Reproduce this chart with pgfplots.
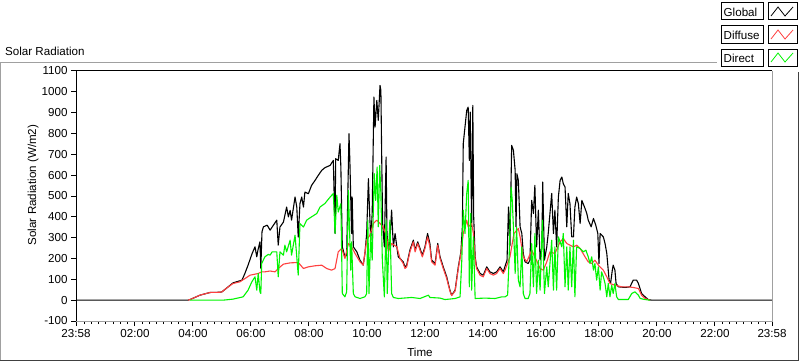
\documentclass[border=0pt]{standalone}
\usepackage{fontspec}
\setmainfont{Liberation Sans}
\usepackage{pgfplots}
\pgfplotsset{compat=1.18}
\definecolor{dred}{RGB}{255,64,64}
\definecolor{dgreen}{RGB}{0,245,0}
\definecolor{fgray}{RGB}{160,160,160}
\newcommand{\lvfont}{\fontsize{11.6bp}{13bp}\selectfont}
\begin{document}
\begin{tikzpicture}[x=1bp,y=1bp]
\useasboundingbox (0,0) rectangle (800,361);
\fill[white] (0,0) rectangle (800,361);
% panel border
\draw[fgray, line width=1bp] (0.5,0.5) -- (0.5,299) -- (717,299);
\draw[black!75, line width=1bp] (0.5,0.5) -- (798.5,0.5) -- (798.5,289);
\node[anchor=base west, inner sep=0, font=\lvfont] at (5,306) {Solar Radiation};
\begin{axis}[
  name=ax,
  at={(76bp,40bp)}, anchor=south west,
  scale only axis, width=696bp, height=250bp,
  xmin=-0.033, xmax=23.967, ymin=-100, ymax=1100,
  axis line style={draw=none},
  tick align=outside, tick pos=left,
  major tick length=5bp, minor tick length=3bp,
  every tick/.style={black, line width=1bp},
  xtick={-0.033,2,4,6,8,10,12,14,16,18,20,22,23.967},
  xticklabels={23:58,02:00,04:00,06:00,08:00,10:00,12:00,14:00,16:00,18:00,20:00,22:00,23:58},
  minor xtick={0.25,0.5,...,23.75},
  ytick={-100,0,100,200,300,400,500,600,700,800,900,1000,1100},
  yticklabels={-100,0,100,200,300,400,500,600,700,800,900,1000,1100},
  tick label style={font=\lvfont},
  every axis plot/.append style={line width=1.1bp, line join=round, mark=none},
]
\addplot[black] coordinates {
(-0.03,0) (3.83,0) (3.90,3) (4.24,24) (4.59,37) (4.93,38) (5.00,40) (5.17,59) (5.38,83) (5.69,96) (5.79,128) (5.90,168) (6.04,224) (6.14,256) (6.20,208) (6.24,240) (6.31,280) (6.34,152) (6.38,328) (6.43,352) (6.56,360) (6.66,336) (6.73,351) (6.89,384) (6.94,264) (7.00,351) (7.12,375) (7.23,447) (7.29,400) (7.35,431) (7.40,384) (7.52,495) (7.58,447) (7.63,303) (7.69,464) (7.75,495) (7.81,447) (7.86,519) (7.98,511) (8.09,551) (8.21,575) (8.32,599) (8.44,623) (8.55,636) (8.73,647) (8.84,671) (8.90,320) (8.92,679) (9.01,671) (9.07,751) (9.10,639) (9.15,256) (9.24,208) (9.30,216) (9.38,799) (9.41,671) (9.47,320) (9.49,495) (9.53,256) (9.65,232) (9.76,192) (9.87,168) (9.93,224) (9.99,320) (10.05,583) (10.08,463) (10.13,288) (10.18,416) (10.24,975) (10.28,831) (10.34,959) (10.39,863) (10.45,1031) (10.48,1007) (10.51,671) (10.54,368) (10.60,256) (10.66,687) (10.69,320) (10.74,240) (10.79,288) (10.85,432) (10.91,256) (10.97,320) (11.03,256) (11.08,208) (11.14,200) (11.25,184) (11.31,160) (11.37,168) (11.48,240) (11.60,288) (11.66,240) (11.75,280) (11.83,248) (11.91,216) (12.00,256) (12.09,320) (12.17,272) (12.23,192) (12.35,176) (12.44,272) (12.52,208) (12.63,160) (12.75,112) (12.86,48) (12.92,24) (13.04,48) (13.15,160) (13.24,232) (13.29,352) (13.32,751) (13.38,831) (13.44,911) (13.49,927) (13.53,671) (13.56,903) (13.61,352) (13.65,935) (13.68,400) (13.73,208) (13.78,160) (13.90,128) (14.01,120) (14.13,160) (14.24,136) (14.36,128) (14.47,136) (14.59,160) (14.70,136) (14.83,192) (14.88,447) (14.93,260) (14.99,743) (15.05,719) (15.11,623) (15.14,352) (15.17,607) (15.22,575) (15.28,352) (15.34,320) (15.39,224) (15.45,184) (15.56,176) (15.62,192) (15.68,479) (15.74,416) (15.79,551) (15.85,256) (15.91,432) (15.97,192) (16.03,256) (16.06,567) (16.12,192) (16.20,256) (16.25,320) (16.37,512) (16.43,320) (16.48,432) (16.54,256) (16.60,495) (16.66,575) (16.72,591) (16.77,559) (16.83,543) (16.89,352) (16.94,512) (17.00,463) (17.06,304) (17.12,304) (17.17,447) (17.23,495) (17.29,463) (17.35,368) (17.41,479) (17.52,440) (17.58,416) (17.63,384) (17.73,352) (17.81,392) (17.89,360) (17.96,320) (18.00,176) (18.04,320) (18.15,304) (18.21,272) (18.27,224) (18.32,144) (18.35,96) (18.40,80) (18.46,144) (18.49,168) (18.55,144) (18.59,80) (18.67,64) (18.90,61) (19.07,64) (19.18,96) (19.30,96) (19.36,80) (19.47,32) (19.59,16) (19.70,3) (19.82,0) (23.97,0)
};
\addplot[dred] coordinates {
(3.83,0) (3.90,3) (4.24,24) (4.59,37) (4.93,38) (5.00,40) (5.17,59) (5.38,80) (5.62,88) (5.97,120) (6.25,128) (6.37,136) (6.48,136) (6.66,140) (6.83,136) (6.94,152) (7.12,173) (7.35,179) (7.63,181) (7.81,152) (7.98,160) (8.21,165) (8.44,168) (8.61,152) (8.78,144) (8.90,152) (9.01,232) (9.13,248) (9.24,200) (9.36,272) (9.47,256) (9.59,224) (9.76,184) (9.87,168) (9.99,288) (10.10,312) (10.22,368) (10.34,384) (10.45,368) (10.56,352) (10.68,304) (10.74,232) (10.85,272) (11.03,256) (11.14,200) (11.25,176) (11.31,152) (11.37,160) (11.48,232) (11.60,280) (11.66,232) (11.75,272) (11.83,240) (11.91,208) (12.00,248) (12.09,304) (12.17,256) (12.23,184) (12.35,168) (12.44,264) (12.52,200) (12.63,152) (12.75,104) (12.86,44) (12.92,22) (13.04,44) (13.15,152) (13.24,224) (13.32,320) (13.44,384) (13.49,352) (13.61,368) (13.67,320) (13.73,200) (13.78,152) (13.90,120) (14.01,112) (14.13,152) (14.24,128) (14.36,120) (14.47,128) (14.59,152) (14.70,128) (14.76,144) (14.93,208) (14.99,256) (15.07,320) (15.22,344) (15.28,304) (15.39,208) (15.51,184) (15.68,240) (15.79,208) (15.97,152) (16.08,144) (16.20,184) (16.31,232) (16.48,224) (16.66,280) (16.77,296) (16.89,272) (17.00,264) (17.12,256) (17.23,264) (17.35,248) (17.52,208) (17.63,184) (17.75,176) (17.86,192) (17.98,168) (18.15,144) (18.27,112) (18.38,80) (18.55,72) (18.78,64) (19.01,64) (19.18,61) (19.36,56) (19.47,24) (19.59,8) (19.76,0)
};
\addplot[dgreen] coordinates {
(3.90,0) (5.04,0) (5.38,5) (5.73,16) (5.90,48) (6.03,88) (6.14,112) (6.20,48) (6.25,128) (6.31,40) (6.34,32) (6.37,176) (6.48,208) (6.60,220) (6.66,216) (6.73,232) (6.89,232) (6.94,112) (7.00,232) (7.12,216) (7.17,264) (7.23,232) (7.35,288) (7.40,216) (7.52,312) (7.63,120) (7.69,368) (7.81,351) (7.92,384) (8.09,400) (8.27,416) (8.38,447) (8.55,464) (8.73,495) (8.84,512) (8.90,320) (8.96,504) (9.01,423) (9.10,463) (9.15,32) (9.24,16) (9.30,40) (9.36,527) (9.39,384) (9.44,144) (9.47,280) (9.53,32) (9.59,16) (9.76,8) (9.93,16) (9.99,32) (10.03,384) (10.07,32) (10.13,320) (10.18,192) (10.25,607) (10.30,479) (10.35,639) (10.39,352) (10.44,647) (10.48,512) (10.53,192) (10.60,16) (10.66,384) (10.70,32) (10.76,288) (10.79,384) (10.85,32) (10.91,13) (11.08,8) (11.54,13) (11.83,8) (12.12,24) (12.17,13) (12.52,10) (12.69,3) (13.04,8) (13.21,16) (13.27,192) (13.32,432) (13.38,320) (13.44,512) (13.49,575) (13.53,64) (13.58,416) (13.61,48) (13.67,304) (13.73,8) (14.07,10) (14.42,8) (14.65,16) (14.76,16) (14.85,24) (14.90,192) (14.97,543) (15.01,479) (15.07,288) (15.11,128) (15.16,352) (15.22,96) (15.28,64) (15.34,256) (15.39,32) (15.45,8) (15.56,8) (15.62,32) (15.68,272) (15.74,64) (15.79,320) (15.85,32) (15.91,192) (15.97,48) (16.05,384) (16.12,32) (16.20,160) (16.25,64) (16.37,288) (16.43,48) (16.48,256) (16.54,48) (16.60,304) (16.66,280) (16.72,256) (16.77,320) (16.83,64) (16.89,256) (16.94,48) (17.00,256) (17.06,64) (17.12,288) (17.17,16) (17.23,256) (17.35,248) (17.46,232) (17.55,240) (17.63,208) (17.69,176) (17.75,208) (17.81,144) (17.86,176) (17.92,96) (17.98,160) (18.04,48) (18.09,136) (18.15,112) (18.21,80) (18.27,16) (18.32,80) (18.38,16) (18.44,72) (18.49,32) (18.55,80) (18.61,16) (18.67,3) (19.01,3) (19.13,32) (19.24,40) (19.36,24) (19.42,8) (19.59,3) (19.76,0)
};
\end{axis}
% plot frame
\draw[black, line width=1bp] (ax.south west) -- (ax.north west) -- (ax.north east);
\draw[fgray, line width=1bp] (ax.north east) -- (ax.south east) -- (ax.south west);
% axis labels
\node[rotate=90, inner sep=0, font=\lvfont] at (33,176) {Solar Radiation (W/m2)};
\node[inner sep=0, font=\lvfont] at (420,9) {Time};
% legend
\foreach \yy/\lab/\col in {341/Global/black, 318/Diffuse/dred, 295/Direct/dgreen} {
  \draw[fill=white, line width=1bp] (721,\yy) rectangle (763,\yy+17);
  \node[anchor=base west, inner sep=0, font=\lvfont] at (723.5,\yy+4) {\lab};
  \draw[fill=white, line width=1bp] (768,\yy) rectangle (797,\yy+17);
  \draw[\col, line width=0.8bp] (771,\yy+4) -- (778,\yy+13) -- (785,\yy+4) -- (793,\yy+13);
}
\end{tikzpicture}
\end{document}
